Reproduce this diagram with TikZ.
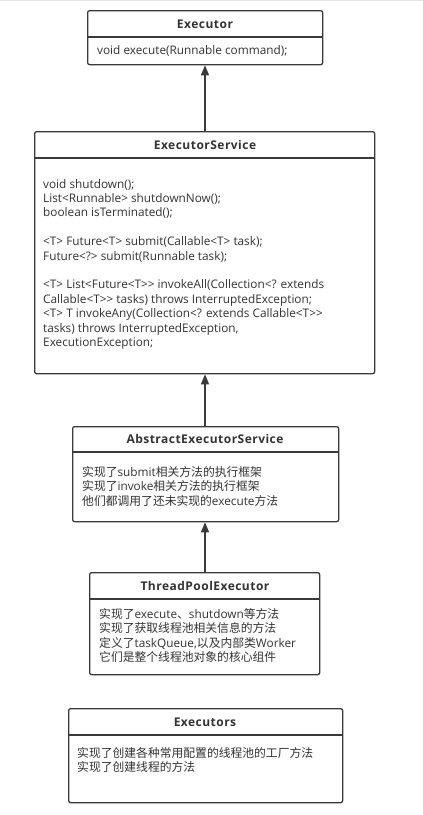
\documentclass[tikz,border=0pt]{standalone}
\usepackage{fontspec}
\setmainfont{Open Sans}
\newfontfamily\cjk{Noto Sans CJK SC}
\newcommand\zh[1]{{\cjk #1}}
\newcommand\dgt{>{}>}
\usetikzlibrary{arrows.meta}
\definecolor{ink}{HTML}{333333}
\definecolor{edge}{HTML}{3A3A3A}
\begin{document}
\begin{tikzpicture}[x=1pt,y=-1pt,
  box/.style={draw=edge, line width=1.3pt, rounded corners=2pt, fill=white, inner sep=0pt, anchor=north west},
  divider/.style={draw=edge, line width=1.3pt},
  title/.style={text=ink, font=\fontsize{12}{13}\selectfont\bfseries\addfontfeatures{LetterSpace=4}, inner sep=0pt},
  body/.style={text=ink, font=\fontsize{11.8}{14.4}\selectfont, align=left, anchor=north west, inner sep=0pt},
  arr/.style={draw=edge, line width=1.3pt, -{Triangle[length=10pt,width=8pt]}}]
\useasboundingbox (0,0) rectangle (423,815);
\fill[white] (0,0) rectangle (423,815);
\draw[black!10, line width=1pt] (0,0.5) -- (423,0.5);

% Executor
\node[box, minimum width=235, minimum height=54] (exec) at (87,10) {};
\draw[divider] (87,37) -- (322,37);
\node[title] (execT) at (205,24) {Executor};
\node[body, anchor=west] (execB) at (97,51) {void execute(Runnable command);};

% ExecutorService
\node[box, minimum width=340, minimum height=242] (es) at (34,131) {};
\draw[divider] (34,158) -- (374,158);
\node[title] (esT) at (205,145) {ExecutorService};
\node[body] (esB) at (43,179) {void shutdown();\\
List<Runnable> shutdownNow();\\
boolean isTerminated();\\[14.4pt]
<T> Future<T> submit(Callable<T> task);\\
Future<?> submit(Runnable task);\\[14.4pt]
<T> List<Future<T\dgt{} invokeAll(Collection<? extends\\
Callable<T\dgt{} tasks) throws InterruptedException;\\
<T> T invokeAny(Collection<? extends Callable<T\dgt\\
tasks) throws InterruptedException,\\
ExecutionException;};

% AbstractExecutorService
\node[box, minimum width=266, minimum height=95] (aes) at (72,426) {};
\draw[divider] (72,452) -- (338,452);
\node[title] (aesT) at (205,439) {AbstractExecutorService};
\node[body] (aesB) at (82,466) {\zh{实现了}submit\zh{相关方法的执行框架}\\
\zh{实现了}invoke\zh{相关方法的执行框架}\\
\zh{他们都调用了还未实现的}execute\zh{方法}};

% ThreadPoolExecutor
\node[box, minimum width=230, minimum height=102] (tpe) at (89,572) {};
\draw[divider] (89,599) -- (319,599);
\node[title] (tpeT) at (205,586) {ThreadPoolExecutor};
\node[body] (tpeB) at (99,608) {\zh{实现了}execute\zh{、}shutdown\zh{等方法}\\
\zh{实现了获取线程池相关信息的方法}\\
\zh{定义了}taskQueue,\zh{以及内部类}Worker\\
\zh{它们是整个线程池对象的核心组件}};

% Executors
\node[box, minimum width=274, minimum height=94] (exs) at (68,708) {};
\draw[divider] (68,735) -- (342,735);
\node[title] (exsT) at (205,722) {Executors};
\node[body] (exsB) at (77,747) {\zh{实现了创建各种常用配置的线程池的工厂方法}\\
\zh{实现了创建线程的方法}};

% connectors
\draw[arr] (es.north -| execT) -- (exec.south -| execT);
\draw[arr] (aes.north -| execT) -- (es.south -| execT);
\draw[arr] (tpe.north -| execT) -- (aes.south -| execT);
\end{tikzpicture}
\end{document}
